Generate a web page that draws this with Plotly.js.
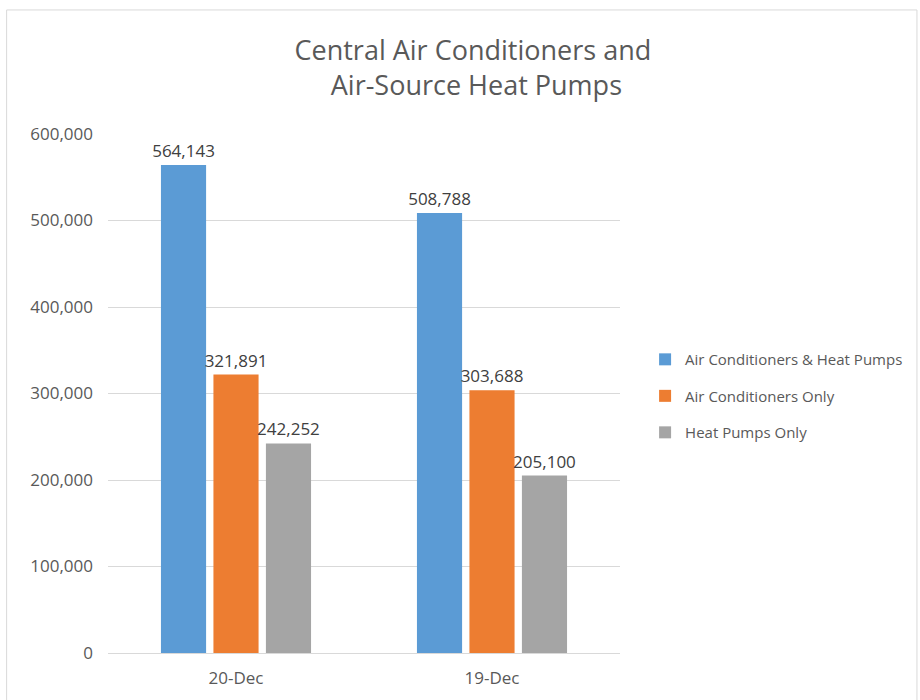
<!DOCTYPE html>
<html>
<head>
<meta charset="utf-8">
<script src="https://cdn.plot.ly/plotly-3.0.1.min.js"></script>
<style>html,body{margin:0;padding:0;background:#fff;}#chart{width:920px;height:700px;}</style>
</head>
<body>
<div id="chart"></div>
<script>
var categories = ["20-Dec", "19-Dec"];
var seriesNames = ["Air Conditioners & Heat Pumps", "Air Conditioners Only", "Heat Pumps Only"];
var acAndHp = [564143, 508788];
var acOnly = [321891, 303688];
var hpOnly = [242252, 205100];
var colors = ["#5B9BD5", "#ED7D31", "#A5A5A5"];
var yTickVals = [0, 100000, 200000, 300000, 400000, 500000, 600000];
var yTickText = ["0", "100,000", "200,000", "300,000", "400,000", "500,000", "600,000"];

var FONT = "Open Sans, Liberation Sans, sans-serif";
var seriesValues = [acAndHp, acOnly, hpOnly];
var fmt = function (v) { return v.toLocaleString("en-US"); };
var traces = seriesValues.map(function (vals, i) {
  return {
    type: "bar",
    name: seriesNames[i],
    legendgroup: "g" + i,
    x: categories,
    y: vals,
    marker: { color: colors[i] },
    text: vals.map(fmt),
    textposition: "outside",
    constraintext: "none",
    cliponaxis: false,
    textfont: { family: FONT, size: 17, color: "#404040" }
  };
});

var layout = {
  width: 920,
  height: 700,
  paper_bgcolor: "#ffffff",
  plot_bgcolor: "#ffffff",
  margin: { l: 108, r: 298, t: 134, b: 47 },
  barmode: "group",
  bargap: 0.385,
  bargroupgap: 0.14,
  font: { family: FONT, color: "#595959", size: 15 },
  title: {
    text: "Central Air Conditioners and<br> Air-Source Heat Pumps",
    font: { family: FONT, size: 27, color: "#595959" },
    xref: "container", x: 0.514, xanchor: "center",
    yref: "container", y: 0.914, yanchor: "top"
  },
  xaxis: {
    type: "category",
    showgrid: false,
    showline: true,
    linecolor: "#D9D9D9",
    linewidth: 1,
    ticks: "",
    ticklabelstandoff: 10,
    tickfont: { family: FONT, size: 17, color: "#595959" }
  },
  yaxis: {
    range: [0, 600000],
    tickvals: yTickVals,
    ticktext: yTickText,
    showgrid: true,
    gridcolor: "#D9D9D9",
    zeroline: false,
    showline: false,
    ticks: "",
    ticklabelstandoff: 14,
    tickfont: { family: FONT, size: 17, color: "#595959" }
  },
  legend: {
    x: 1.049, xanchor: "left",
    y: 0.495, yanchor: "middle",
    font: { family: FONT, size: 15, color: "#595959" },
    traceorder: "grouped",
    tracegroupgap: 14
  },
  showlegend: true,
  shapes: [{
    type: "rect", xref: "paper", yref: "paper",
    x0: -0.198, x1: 1.58, y0: -0.1, y1: 1.239,
    line: { color: "#D9D9D9", width: 1 }, fillcolor: "rgba(0,0,0,0)", layer: "below"
  }]
};

Plotly.newPlot("chart", traces, layout, { displayModeBar: false, staticPlot: true });
</script>
</body>
</html>
